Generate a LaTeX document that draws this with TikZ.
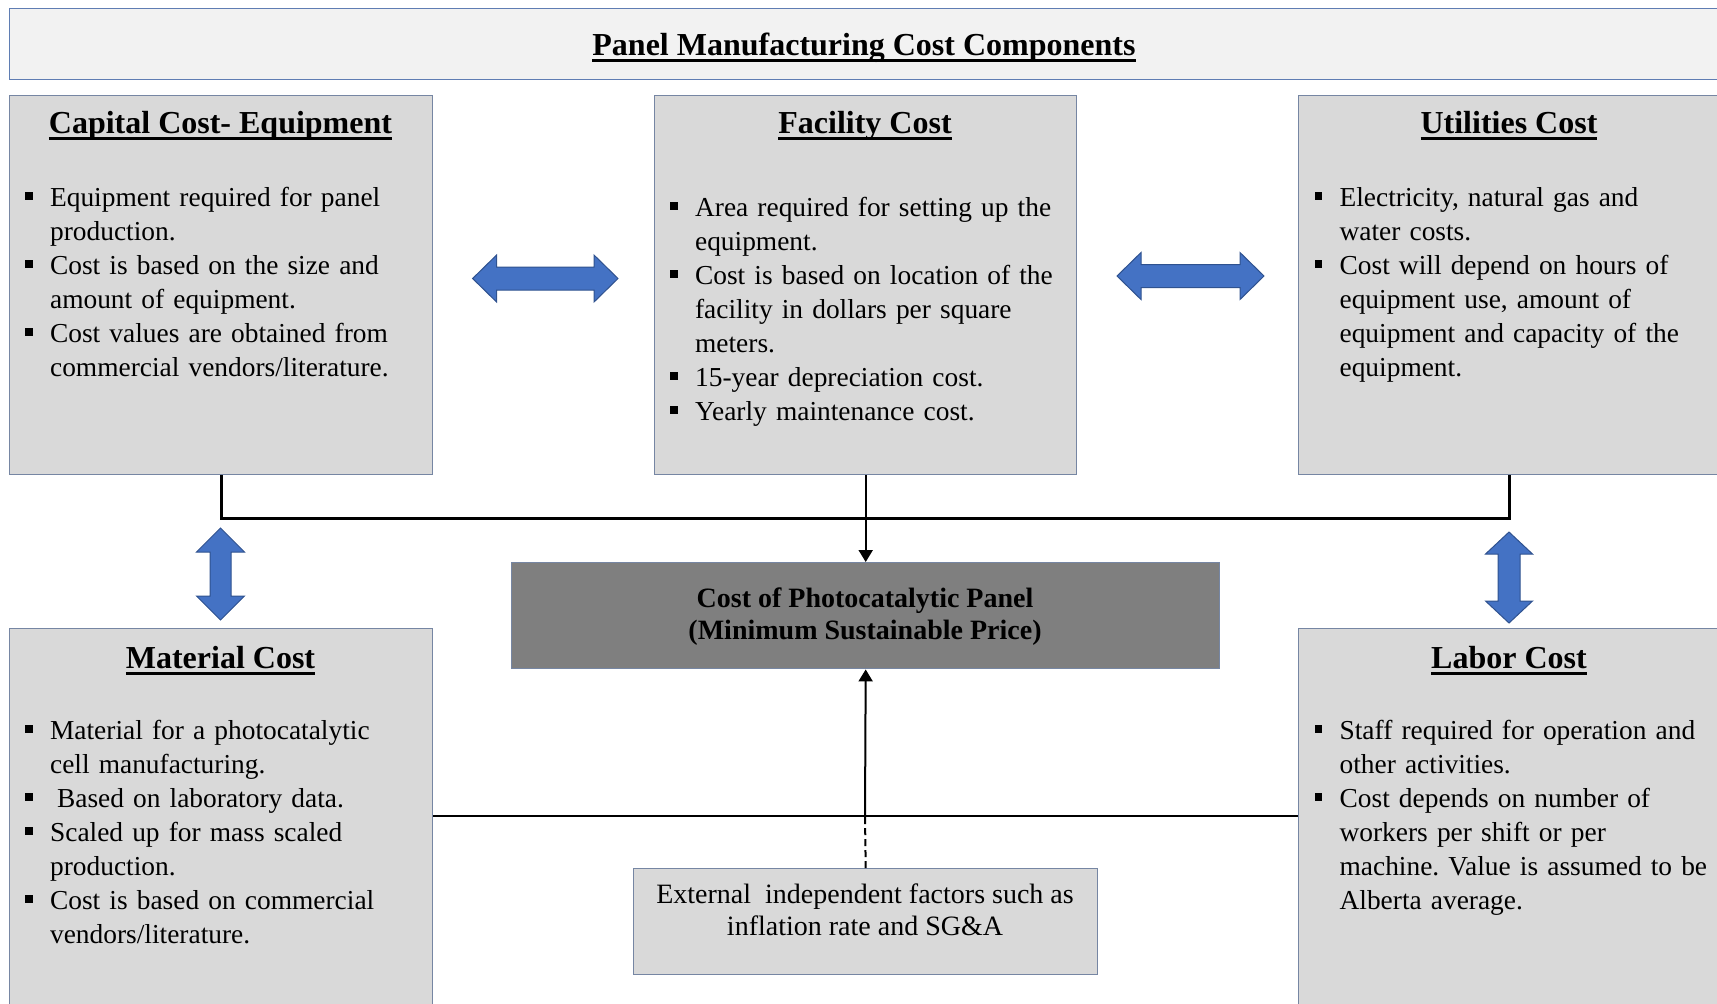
\documentclass[tikz,border=0pt]{standalone}
\usepackage{fontspec}
\setmainfont{Liberation Serif}
\usetikzlibrary{arrows.meta}
\definecolor{boxfill}{HTML}{D9D9D9}
\definecolor{boxdraw}{HTML}{7686A3}
\definecolor{titlefill}{HTML}{F2F2F2}
\definecolor{titledraw}{HTML}{5F7DB3}
\definecolor{ctrfill}{HTML}{7F7F7F}
\definecolor{arrowblue}{HTML}{4472C4}
\definecolor{arrowedge}{HTML}{2F528F}
\frenchspacing
\newsavebox{\hulbox}
\newcommand{\hul}[1]{\sbox{\hulbox}{#1}\rlap{\rule[-3.3pt]{\wd\hulbox}{1.1pt}}\usebox{\hulbox}}
\newcommand{\bitem}[1]{\noindent\hangindent=12.35pt\hangafter=1\makebox[12.35pt][l]{\rule[3.4pt]{3.7pt}{3.7pt}}\strut#1\par}
\begin{document}
\begin{tikzpicture}[x=0.5pt,y=-0.5pt,
  box/.style={draw=boxdraw, fill=boxfill, line width=0.7pt, inner sep=0pt, anchor=north west},
  hdr/.style={font=\fontsize{16}{19}\selectfont\bfseries, inner sep=0pt, anchor=base},
  lst/.style={font=\fontsize{13.7}{17}\selectfont\frenchspacing, inner sep=0pt, anchor=north west, text width=250pt, align=left},
  conn/.style={line width=1.4pt, black},
  thinconn/.style={line width=1pt, black},
  tip/.style={-{Triangle[length=6pt,width=7pt]}},
  bluearrow/.style={fill=arrowblue, draw=arrowedge, line width=0.5pt, line join=miter}]
\useasboundingbox (0,0) rectangle (1717,1003);
\clip (0,0) rectangle (1717,1003);
% boxes
\node[box, draw=titledraw, fill=titlefill, minimum width=855pt, minimum height=35.5pt] (title) at (9,8) {};
\node[box, minimum width=211.5pt, minimum height=189.5pt] (cap) at (9,95) {};
\node[box, minimum width=211pt, minimum height=189.5pt] (fac) at (654,95) {};
\node[box, minimum width=211pt, minimum height=189.5pt] (util) at (1298,95) {};
\node[box, minimum width=211.5pt, minimum height=191pt] (mat) at (9,628) {};
\node[box, minimum width=211pt, minimum height=191pt] (lab) at (1298,628) {};
\node[box, fill=ctrfill, minimum width=354pt, minimum height=53pt] (ctr) at (511,562) {};
\node[box, minimum width=232pt, minimum height=53pt] (ext) at (633,868) {};
% connectors
\draw[conn] (cap.south) -- ++(0,43) -| (util.south);
\draw[thinconn, tip] (fac.south) -- (ctr.north);
\coordinate (low) at (865,816);
\draw[conn] (low -| mat.east) -- (low -| lab.west);
\draw[thinconn, tip] (low) -- (ctr.south);
\draw[thinconn, dash pattern=on 3.5pt off 2pt] (ext.north) -- (low);
% blue block arrows
\draw[bluearrow] (472.6,278.5) -- ++(24,-23.5) -- ++(0,12) -- ++(97.4,0) -- ++(0,-12) -- ++(24,23.5) -- ++(-24,23.5) -- ++(0,-12) -- ++(-97.4,0) -- ++(0,12) -- cycle;
\draw[bluearrow] (1117,276) -- ++(24,-23.5) -- ++(0,12) -- ++(99,0) -- ++(0,-12) -- ++(24,23.5) -- ++(-24,23.5) -- ++(0,-12) -- ++(-99,0) -- ++(0,12) -- cycle;
\draw[bluearrow] (220.5,528) -- ++(24,24) -- ++(-13.5,0) -- ++(0,44) -- ++(13.5,0) -- ++(-24,24) -- ++(-24,-24) -- ++(13.5,0) -- ++(0,-44) -- ++(-13.5,0) -- cycle;
\draw[bluearrow] (1509,532) -- ++(23.5,22) -- ++(-12.5,0) -- ++(0,47) -- ++(12.5,0) -- ++(-23.5,22) -- ++(-23.5,-22) -- ++(12.5,0) -- ++(0,-47) -- ++(-12.5,0) -- cycle;
% titles
\node[hdr] (ttltext) at (864,55) {\hul{Panel Manufacturing Cost Components}};
\node[hdr] (caphdr) at (220.5,133) {\hul{Capital Cost- Equipment}};
\node[hdr] (fachdr) at (865,133) {\hul{Facility Cost}};
\node[hdr] (utilhdr) at (1509,133) {\hul{Utilities Cost}};
\node[hdr] (mathdr) at (220.5,668) {\hul{Material Cost}};
\node[hdr] (labhdr) at (1509,668) {\hul{Labor Cost}};
% lists
\node[lst] (caplist) at (25,182.2) {%
\bitem{Equipment required for panel\newline production.}%
\bitem{Cost is based on the size and\newline amount of equipment.}%
\bitem{Cost values are obtained from\newline commercial vendors/literature.}};
\node[lst] (faclist) at (670,192.2) {%
\bitem{Area required for setting up the\newline equipment.}%
\bitem{Cost is based on location of the\newline facility in dollars per square\newline meters.}%
\bitem{15-year depreciation cost.}%
\bitem{Yearly maintenance cost.}};
\node[lst] (utillist) at (1314.5,182.2) {%
\bitem{Electricity, natural gas and\newline water costs.}%
\bitem{Cost will depend on hours of\newline equipment use, amount of\newline equipment and capacity of the\newline equipment.}};
\node[lst] (matlist) at (25,715.2) {%
\bitem{Material for a photocatalytic\newline cell manufacturing.}%
\bitem{\hspace*{3.5pt}Based on laboratory data.}%
\bitem{Scaled up for mass scaled\newline production.}%
\bitem{Cost is based on commercial\newline vendors/literature.}};
\node[lst] (lablist) at (1314.5,715.2) {%
\bitem{Staff required for operation and\newline other activities.}%
\bitem{Cost depends on number of\newline workers per shift or per\newline machine. Value is assumed to be\newline Alberta average.}};
% centre texts
\node[font=\fontsize{14}{15.8}\selectfont\bfseries, inner sep=0pt, anchor=north, align=center] (ctrtext) at (865,585) {\strut Cost of Photocatalytic Panel\\\strut(Minimum Sustainable Price)};
\node[font=\fontsize{14}{16}\selectfont, inner sep=0pt, anchor=north, align=center] (exttext) at (865,880.6) {\strut External\ \ independent factors such as\\\strut inflation rate and SG\&A};
\end{tikzpicture}
\end{document}
